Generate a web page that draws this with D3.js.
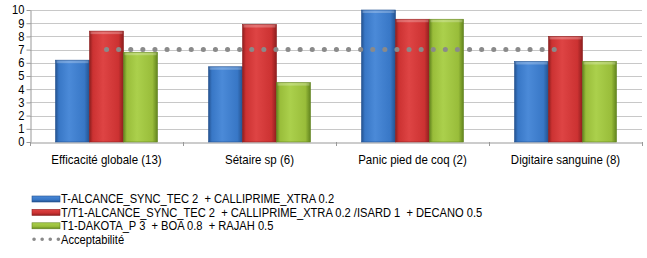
<!DOCTYPE html>
<html>
<head>
<meta charset="utf-8">
<script src="https://cdn.jsdelivr.net/npm/d3@7"></script>
<style>
body { margin: 0; background: #fff; }
svg text { font-family: "Liberation Sans", Arial, sans-serif; fill: #000; white-space: pre; }
</style>
</head>
<body>
<div id="chart"></div>
<script>
var categories = ["Efficacité globale (13)", "Sétaire sp (6)", "Panic pied de coq (2)", "Digitaire sanguine (8)"];
var seriesNames = [
    "T-ALCANCE_SYNC_TEC 2  + CALLIPRIME_XTRA 0.2",
    "T/T1-ALCANCE_SYNC_TEC 2  + CALLIPRIME_XTRA 0.2 /ISARD 1  + DECANO 0.5",
    "T1-DAKOTA_P 3  + BOA 0.8  + RAJAH 0.5"
];
var seriesValues = [
    [6.2, 5.7, 10.0, 6.1],
    [8.4, 8.9, 9.3, 8.0],
    [6.8, 4.5, 9.3, 6.1]
];
var lineName = "Acceptabilité";
var lineValues = [7, 7, 7, 7];
var yTicks = [0, 1, 2, 3, 4, 5, 6, 7, 8, 9, 10];

var width = 647, height = 258;
var margin = {left: 30, right: 5, top: 10, bottom: 116};
var plotW = width - margin.left - margin.right,
    plotH = height - margin.top - margin.bottom;
var squeeze = 0.885; // the text in the picture is a bit narrow

var svg = d3.select("#chart").append("svg")
    .attr("width", width)
    .attr("height", height);

function narrow(sel, k) {
    k = k || squeeze;
    sel.each(function() {
        var t = d3.select(this);
        var x = +t.attr("x") || 0;
        t.attr("x", x / k).attr("transform", "scale(" + k + ",1)");
    });
}

// bar colours: [light, mid, dark]
var palette = [
    ["#4b8ad8", "#3877c6", "#24528f"],
    ["#de4444", "#cc3232", "#8e1e1e"],
    ["#abd04c", "#99bd3a", "#62841e"]
];

var defs = svg.append("defs");
palette.forEach(function(p, i) {
    var g = defs.append("linearGradient").attr("id", "grad" + i)
        .attr("x1", "0").attr("x2", "1").attr("y1", "0").attr("y2", "0");
    g.append("stop").attr("offset", "0%").attr("stop-color", p[2]);
    g.append("stop").attr("offset", "10%").attr("stop-color", p[1]);
    g.append("stop").attr("offset", "40%").attr("stop-color", p[0]);
    g.append("stop").attr("offset", "85%").attr("stop-color", p[1]);
    g.append("stop").attr("offset", "100%").attr("stop-color", p[2]);
    var lg = defs.append("linearGradient").attr("id", "lgrad" + i)
        .attr("x1", "0").attr("x2", "0").attr("y1", "0").attr("y2", "1");
    lg.append("stop").attr("offset", "0%").attr("stop-color", p[0]);
    lg.append("stop").attr("offset", "60%").attr("stop-color", p[1]);
    lg.append("stop").attr("offset", "100%").attr("stop-color", p[2]);
});

var g = svg.append("g").attr("transform", "translate(" + margin.left + "," + margin.top + ")");

var x0 = d3.scaleBand().domain(categories).range([0, plotW]).paddingInner(0).paddingOuter(0);
var x1 = d3.scaleBand().domain(d3.range(seriesNames.length))
    .range([x0.bandwidth() / 6, x0.bandwidth() * 5 / 6]);
var y = d3.scaleLinear().domain([0, 10]).range([plotH, 0]);

// gridlines
g.selectAll(".grid").data(yTicks.slice(1)).enter().append("line")
    .attr("x1", 0).attr("x2", plotW)
    .attr("y1", function(d) { return Math.round(y(d)) + 0.5; })
    .attr("y2", function(d) { return Math.round(y(d)) + 0.5; })
    .attr("stroke", "#c8c8c8");

// y axis
var yAxis = g.append("g").attr("transform", "translate(0.5,0)")
    .call(d3.axisLeft(y).tickValues(yTicks).tickSize(4).tickSizeOuter(0));
yAxis.select(".domain").attr("stroke", "#999");
yAxis.selectAll(".tick line").attr("stroke", "#999");
yAxis.selectAll(".tick text").attr("font-size", "12px").attr("x", -6)
    .style("font-family", "'Liberation Sans', Arial, sans-serif")
    .call(narrow, 0.93);

// x axis
var xAxis = g.append("g").attr("transform", "translate(0," + (plotH + 0.5) + ")")
    .call(d3.axisBottom(x0).tickSize(0).tickSizeOuter(0));
xAxis.select(".domain").attr("stroke", "#999");
xAxis.selectAll(".tick text").attr("font-size", "13px").attr("dy", "1.45em")
    .style("font-family", "'Liberation Sans', Arial, sans-serif")
    .call(narrow);
var bounds = categories.map(function(c) { return x0(c); }).concat([plotW]);
g.selectAll(".ctick").data(bounds).enter().append("line")
    .attr("x1", function(d) { return Math.round(d) + 0.5; })
    .attr("x2", function(d) { return Math.round(d) + 0.5; })
    .attr("y1", plotH).attr("y2", plotH + 4)
    .attr("stroke", "#999");

// bars
var groups = g.selectAll(".cat").data(categories).enter().append("g")
    .attr("transform", function(c) { return "translate(" + x0(c) + ",0)"; });
groups.selectAll("rect").data(function(c, ci) {
        return seriesValues.map(function(vals, si) { return {s: si, v: vals[ci]}; });
    }).enter().append("rect")
    .attr("x", function(d) { return x1(d.s); })
    .attr("width", x1.bandwidth())
    .attr("y", function(d) { return y(d.v); })
    .attr("height", function(d) { return plotH - y(d.v); })
    .attr("fill", function(d) { return "url(#grad" + d.s + ")"; })
    .attr("stroke", function(d) { return palette[d.s][2]; })
    .attr("stroke-width", 0.6);
// top bevel highlight
groups.selectAll(".bevel").data(function(c, ci) {
        return seriesValues.map(function(vals, si) { return {s: si, v: vals[ci]}; });
    }).enter().append("rect")
    .attr("x", function(d) { return x1(d.s) + 1; })
    .attr("width", x1.bandwidth() - 2)
    .attr("y", function(d) { return y(d.v) + 0.5; })
    .attr("height", 2.5)
    .attr("fill", "#fff")
    .attr("opacity", 0.25);

// acceptability line
var line = d3.line()
    .x(function(d, i) { return x0(categories[i]) + x0.bandwidth() / 2; })
    .y(function(d) { return y(d); });
g.append("path").datum(lineValues)
    .attr("d", line)
    .attr("fill", "none")
    .attr("stroke", "#8a8a8a")
    .attr("stroke-width", 5)
    .attr("stroke-linecap", "round")
    .attr("stroke-dasharray", "0.1 12");

// legend
var legend = svg.append("g").attr("transform", "translate(32,199)");
var items = seriesNames.concat([lineName]);
var rows = legend.selectAll(".item").data(items).enter().append("g")
    .attr("transform", function(d, i) { return "translate(0," + (i * 13.4) + ")"; });
rows.each(function(d, i) {
    var r = d3.select(this);
    if (i < seriesNames.length) {
        r.append("rect").attr("x", 0).attr("y", -3).attr("width", 28).attr("height", 6)
            .attr("fill", "url(#lgrad" + i + ")")
            .attr("stroke", palette[i][2]).attr("stroke-width", 0.6);
    } else {
        r.append("line").attr("x1", 2).attr("x2", 28).attr("y1", 0).attr("y2", 0)
            .attr("stroke", "#8a8a8a").attr("stroke-width", 3.5)
            .attr("stroke-linecap", "round").attr("stroke-dasharray", "0.1 8");
    }
    r.append("text").attr("x", 29).attr("y", 0).attr("dy", "0.35em")
        .attr("font-size", "12.6px").text(d)
        .call(narrow);
});
</script>
</body>
</html>
